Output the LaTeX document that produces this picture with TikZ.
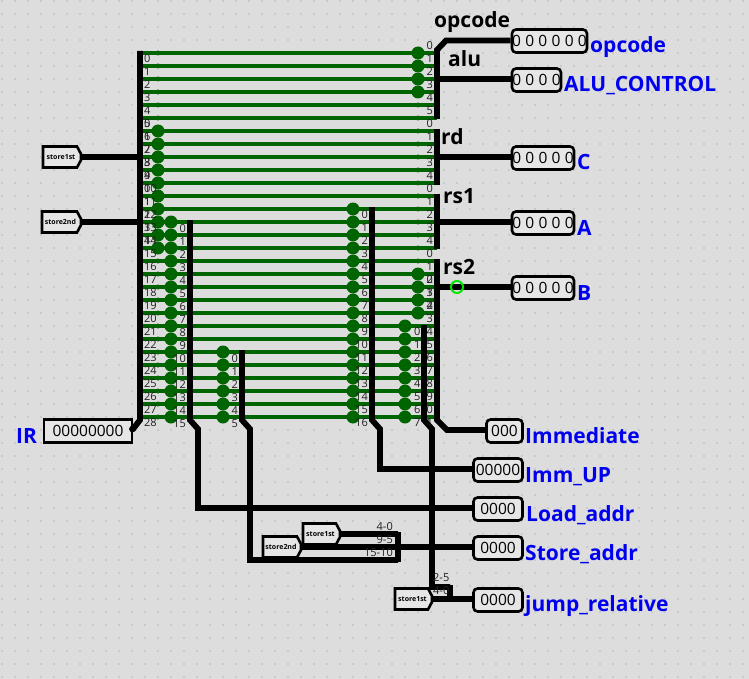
\documentclass[tikz,border=0pt]{standalone}
\usepackage{fontspec}
\setmainfont{Open Sans}
\usetikzlibrary{calc}
\definecolor{bgc}{HTML}{DDDDDD}
\definecolor{boxc}{HTML}{E6E6E6}
\definecolor{gridc}{HTML}{8E8E8E}
\definecolor{wireg}{HTML}{006400}
\definecolor{wireh}{HTML}{5C9A5C}
\definecolor{blu}{HTML}{0000EE}
\tikzset{
  wire/.style={line width=5.4pt,black,line join=miter},
  busbar/.style={line width=5.8pt,black,line join=miter},
  tap/.style={circle,fill=wireg,inner sep=0,minimum size=13pt},
  smalltap/.style={circle,fill=wireg,inner sep=0,minimum size=5pt},
  num/.style={inner sep=0,text=black!88,font=\fontsize{11}{11}\selectfont},
  outbox/.style={draw=black,line width=2.6pt,rounded corners=4pt,fill=boxc,inner sep=0,minimum height=23pt,
     font=\fontsize{15.5}{15.5}\selectfont},
  tagblue/.style={inner sep=0,anchor=base west,text=blu,font=\fontsize{21}{21}\selectfont\bfseries},
  tagblack/.style={inner sep=0,anchor=base west,text=black,font=\fontsize{21}{21}\selectfont\bfseries},
  tuntext/.style={inner sep=0,font=\fontsize{7}{7}\selectfont\bfseries},
  tunshape/.style={draw=black,line width=2.6pt,fill=boxc,line join=miter},
}
\newcommand{\tunnelbox}[5]{% name, left x, centre y, width, text
  \draw[tunshape] (#2,#3-10.5) -- (#2+#4-4,#3-10.5) -- (#2+#4,#3-3) -- (#2+#4,#3+3) -- (#2+#4-4,#3+10.5) -- (#2,#3+10.5) -- cycle;
  \node[tuntext] (#1) at (#2+#4/2-1,#3) {#5};
  \coordinate (#1tip) at (#2+#4,#3);
}
\begin{document}
\begin{tikzpicture}[x=1pt,y=-1pt]
\useasboundingbox (0,0) rectangle (749,679);
\fill[bgc] (0,0) rectangle (749,679);
% grid
\foreach \gx in {0,...,57} \foreach \gy in {0,...,52}
  \fill[gridc] (2+13*\gx,1+13*\gy) circle (0.6pt);
% green wires
\foreach \k in {0,...,28} {
  \draw[wireh,line width=4.6pt] (140,53+13*\k) -- (437,53+13*\k);
}
\foreach \k in {0,...,28} {
  \draw[wireg,line width=3.2pt] (140,53+13*\k) -- (437,53+13*\k);
}
% taps
\foreach \k in {0,...,5,16,17,...,28} \node[smalltap] (sa\k) at (158,53+13*\k) {};
\foreach \k in {6,...,15} \node[tap] (ta\k) at (158,53+13*\k) {};
\foreach \k in {13,...,28} \node[tap] (tb\k) at (171,53+13*\k) {};
\foreach \k in {23,...,28} \node[tap] (tc\k) at (223,53+13*\k) {};
\foreach \k in {12,...,28} \node[tap] (td\k) at (353,53+13*\k) {};
\foreach \k in {21,...,28} \node[tap] (te\k) at (405,53+13*\k) {};
\foreach \k in {0,...,3,17,18,19,20} \node[tap] (tf\k) at (418,53+13*\k) {};
\foreach \k in {4,...,16} \node[smalltap] (sf\k) at (418,53+13*\k) {};
% boxes
\node[draw=black,line width=2.6pt,fill=boxc,inner sep=0,minimum width=88pt,minimum height=22.5pt,font=\fontsize{15.5}{15.5}\selectfont] (ir) at (88,431) {00000000};
\node[outbox,minimum width=75pt] (bOp) at (549.5,41) {\spaceskip=4.3pt 0 0 0 0 0 0};
\node[outbox,minimum width=49pt] (bAlu) at (536.5,80) {\spaceskip=4.3pt 0 0 0 0};
\node[outbox,minimum width=62pt] (bC) at (543,158) {\spaceskip=4.3pt 0 0 0 0 0};
\node[outbox,minimum width=62pt] (bA) at (543,223) {\spaceskip=4.3pt 0 0 0 0 0};
\node[outbox,minimum width=62pt] (bB) at (543,288) {\spaceskip=4.3pt 0 0 0 0 0};
\node[outbox,minimum width=36pt] (bImm) at (504.5,431) {000};
\node[outbox,minimum width=49pt] (bUp) at (498,470) {00000};
\node[outbox,minimum width=49pt] (bLoad) at (498,509) {0000};
\node[outbox,minimum width=49pt] (bStore) at (498,548) {0000};
\node[outbox,minimum width=49pt] (bJump) at (498,600) {0000};
% tunnels
\tunnelbox{tA}{43}{157}{38}{store1st}
\tunnelbox{tB}{42}{222}{39}{store2nd}
\tunnelbox{tC}{303}{534}{37}{store1st}
\tunnelbox{tD}{263}{547}{38}{store2nd}
\tunnelbox{tE}{395}{599}{37}{store1st}
% named joints
\coordinate (hubL) at (140,157);
\coordinate (hubS) at (398,547);
\coordinate (hubJ) at (450,599);
% buses and outgoing wires
\draw[busbar] (140,51) -- (140,420) -- (133,429) -- (ir.east);
\fill[black] (132.5,429) circle (3.4pt);
\draw[wire] (tAtip) -- (hubL);
\draw[wire] (tBtip) -- (tBtip -| hubL);
\draw[busbar] (190,220) -- (190,420) -- (198,429) -- (198,508) -- ([yshift=1pt]bLoad.west);
\draw[busbar] (242,350) -- (242,420) -- (250,429) -- (250,560) -- (398,560);
\draw[busbar] (372,207) -- (372,420) -- (380,429) -- (380,469) -- ([yshift=1pt]bUp.west);
\draw[busbar] (424,325) -- (424,420) -- (432,429) -- (432,587) -- (450,587);
\draw[busbar] (437,119) -- (437,50) -- (446,40.5) -- ([yshift=.5pt]bOp.west);
\draw[busbar] (437,129) -- (437,185);
\draw[busbar] (437,194) -- (437,249);
\draw[busbar] (437,259) -- (437,420) -- (447,430) -- ([yshift=1pt]bImm.west);
\draw[wire] (437,79) -- ([yshift=1pt]bAlu.west);
\draw[wire] (437,157) -- ([yshift=1pt]bC.west);
\draw[wire] (437,222) -- ([yshift=1pt]bA.west);
\draw[wire] (437,287) -- ([yshift=1pt]bB.west);
\node[circle,draw={rgb,255:red,0;green,230;blue,0},line width=2pt,inner sep=0,minimum size=12pt] (probe) at (457,287) {};
\draw[busbar] (398,532) -- (398,562);
\draw[wire] (tCtip) -- (tCtip -| hubS);
\draw[wire] (tDtip) -- ([yshift=1pt]bStore.west);
\draw[busbar] (450,585) -- (450,601.5);
\draw[wire] (tEtip) -- (hubJ) -- ([yshift=1pt]bJump.west);
% numbers: left bus
\foreach \k in {0,...,28} \node[num,anchor=west] (na\k) at (144,59+13*\k) {\k};
\foreach \k/\v in {5/0,6/1,7/2,8/3,9/4,10/0,11/1,12/2,13/3,14/4} \node[num,anchor=west] (nb\k) at (144,59+13*\k) {\v};
% numbers: second bus
\foreach \k in {0,...,15} \node[num,anchor=east] (nc\k) at (186,229+13*\k) {\k};
\foreach \k in {0,...,5} \node[num,anchor=east] (nd\k) at (238,359+13*\k) {\k};
\foreach \k in {0,...,16} \node[num,anchor=east] (ne\k) at (368,215+13*\k) {\k};
\foreach \k in {0,...,7} \node[num,anchor=east] (nf\k) at (420.5,332+13*\k) {\k};
\foreach \k in {0,...,5} \node[num,anchor=east] (ng\k) at (433,46+13*\k) {\k};
\foreach \k in {0,...,4} \node[num,anchor=east] (nh\k) at (433,124+13*\k) {\k};
\foreach \k in {0,...,4} \node[num,anchor=east] (ni\k) at (433,189+13*\k) {\k};
\foreach \k in {0,...,4} \node[num,anchor=east] (nj\k) at (433,254+13*\k) {\k};
\foreach \p/\v in {0/0,1/1,2/2,3/3,4/4,5/5,6/6,7/7,8/8,9/9,10/0,11/1} \node[num,anchor=east] (nk\p) at (433,280+13*\p) {\v};
% bit-range labels
\node[num,anchor=east] (r1) at (393,526.5) {4-0};
\node[num,anchor=east] (r2) at (393,540) {9-5};
\node[num,anchor=east] (r3) at (393,553) {15-10};
\node[num,anchor=west] (r4) at (433,578) {2-5};
\node[num,anchor=west] (r5) at (433,591) {4-0};
% black titles
\node[tagblack] (hOp) at (434,27.5) {opcode};
\node[tagblack] (hAlu) at (448,66.5) {alu};
\node[tagblack] (hRd) at (441,144.5) {rd};
\node[tagblack] (hRs1) at (443,203.5) {rs1};
\node[tagblack] (hRs2) at (443,274.5) {rs2};
% blue labels
\node[tagblue] (lIR) at (16,443) {IR};
\node[tagblue] (lOp) at (590,53) {opcode};
\node[tagblue] (lAlu) at (564,92) {ALU\_CONTROL};
\node[tagblue] (lC) at (577,170) {C};
\node[tagblue] (lA) at (577,235) {A};
\node[tagblue] (lB) at (577,300) {B};
\node[tagblue] (lImm) at (525,443) {Immediate};
\node[tagblue] (lUp) at (525,482) {Imm\_UP};
\node[tagblue] (lLoad) at (526,521) {Load\_addr};
\node[tagblue] (lStore) at (525,560) {Store\_addr};
\node[tagblue] (lJump) at (525,611) {jump\_relative};
\end{tikzpicture}
\end{document}
